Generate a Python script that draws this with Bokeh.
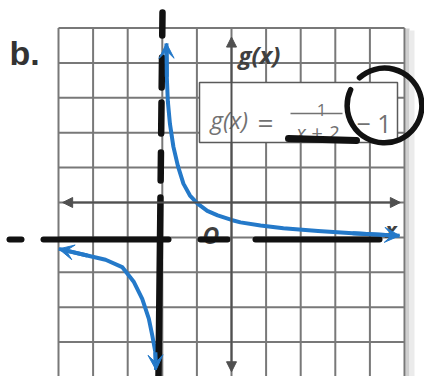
from bokeh.plotting import figure
from bokeh.models import Range1d, Arrow, VeeHead, NormalHead
from bokeh.core.properties import value
from bokeh.embed import file_html
from bokeh.resources import INLINE
import math

# ---- data ----
grid_ticks = [-5, -4, -3, -2, -1, 0, 1, 2, 3, 4, 5]

upper_x = [-1.88, -1.87, -1.84, -1.78, -1.68, -1.55, -1.39, -1.20, -0.98, -0.70,
           -0.40, 0.00, 0.26, 0.84, 1.50, 2.50, 3.50, 4.86]
upper_y = [4.56, 3.60, 2.90, 2.26, 1.60, 1.05, 0.54, 0.20, -0.03, -0.24,
           -0.37, -0.50, -0.57, -0.66, -0.74, -0.82, -0.88, -0.95]

lower_x = [-4.99, -4.17, -3.64, -3.16, -2.82, -2.58, -2.39, -2.29, -2.20, -2.18]
lower_y = [-1.33, -1.52, -1.64, -1.85, -2.28, -2.76, -3.33, -3.81, -4.29, -4.80]

axis_x_ends = [-4.88, 4.88]
axis_y_ends = [-4.85, 4.74]

# ---- pixel -> data helpers for labels / hand annotations ----
X0, Y0, SX, SY = 231.0, 202.0, 34.6, 34.9
def X(px):
    return (px - X0) / SX
def Y(py):
    return (Y0 - py) / SY

W, H = 424, 376
p = figure(width=W, height=H,
           x_range=Range1d(X(0), X(W)), y_range=Range1d(Y(H), Y(0)),
           output_backend="svg", toolbar_location=None, min_border=0,
           x_axis_type=None, y_axis_type=None, outline_line_color=None,
           background_fill_color="white", border_fill_color="white")

GRID = "#787878"
AXIS = "#505050"
BLUE = "#2479c9"
INK = "#111111"
TXT = "#727272"

# shadow to the right of the grid
p.quad(left=X(405), right=X(409), bottom=Y(H), top=Y(28), fill_color="#cfcfcf", line_color=None)
p.quad(left=X(409), right=X(414), bottom=Y(H), top=Y(30), fill_color="#ebebeb", line_color=None)

# grid
lo, hi = grid_ticks[0], grid_ticks[-1]
p.segment(x0=grid_ticks, y0=[lo] * len(grid_ticks), x1=grid_ticks, y1=[hi] * len(grid_ticks),
          line_color=GRID, line_width=2)
p.segment(x0=[lo] * len(grid_ticks), y0=grid_ticks, x1=[hi] * len(grid_ticks), y1=grid_ticks,
          line_color=GRID, line_width=2)

# axes with arrowheads
for xe in axis_x_ends:
    p.add_layout(Arrow(x_start=0, y_start=0, x_end=xe, y_end=0, line_color=AXIS, line_width=2,
                       end=NormalHead(size=10, fill_color=AXIS, line_color=AXIS)))
for ye in axis_y_ends:
    p.add_layout(Arrow(x_start=0, y_start=0, x_end=0, y_end=ye, line_color=AXIS, line_width=2,
                       end=NormalHead(size=10, fill_color=AXIS, line_color=AXIS)))

# equation box
p.quad(left=X(199), right=X(397), bottom=Y(142), top=Y(82), fill_color="white",
       line_color="#5a5a5a", line_width=1.5)

font = value("Open Sans")
p.text(x=[X(210)], y=[Y(119)], text=["g(x)"], text_font=font, text_font_style="italic",
       text_font_size="24px", text_color=TXT, text_baseline="alphabetic")
p.text(x=[X(257)], y=[Y(121)], text=["="], text_font=font, text_font_size="28px",
       text_color=TXT, text_baseline="alphabetic")
p.text(x=[X(321)], y=[Y(109)], text=["1"], text_font=font, text_font_size="17px",
       text_color=TXT, text_baseline="alphabetic", text_align="center")
p.segment(x0=[X(290)], y0=[Y(113)], x1=[X(342)], y1=[Y(113)], line_color=TXT, line_width=1.5)
p.text(x=[X(317)], y=[Y(132)], text=["x + 2"], text_font=font, text_font_style="italic",
       text_font_size="20px", text_color=TXT, text_baseline="alphabetic", text_align="center")
p.text(x=[X(356)], y=[Y(122)], text=["\u2212 1"], text_font=font, text_font_size="25px",
       text_color=TXT, text_baseline="alphabetic")

# axis labels
p.text(x=[X(238)], y=[Y(54)], text=["g(x)"], text_font=font, text_font_style="bold italic",
       text_font_size="24px", text_color="#404040", text_baseline="alphabetic")
p.text(x=[X(202)], y=[Y(234)], text=["O"], text_font=font, text_font_style="bold italic",
       text_font_size="23px", text_color="#404040", text_baseline="alphabetic")
p.text(x=[X(385)], y=[Y(229)], text=["x"], text_font=font, text_font_style="bold italic",
       text_font_size="21px", text_color="#404040", text_baseline="alphabetic")
p.text(x=[X(9)], y=[Y(52)], text=["b."], text_font=value("Liberation Sans"),
       text_font_style="bold", text_font_size="34px", text_color="#333333",
       text_baseline="alphabetic")

# the graph of g
p.line(upper_x, upper_y, line_color=BLUE, line_width=4, line_join="round")
p.line(lower_x, lower_y, line_color=BLUE, line_width=4, line_join="round")
for xs, ys in ((upper_x, upper_y), (lower_x, lower_y)):
    p.add_layout(Arrow(x_start=xs[1], y_start=ys[1], x_end=xs[0], y_end=ys[0],
                       line_color=BLUE, line_width=4,
                       end=VeeHead(size=15, fill_color=BLUE, line_color=BLUE)))
    p.add_layout(Arrow(x_start=xs[-2], y_start=ys[-2], x_end=xs[-1], y_end=ys[-1],
                       line_color=BLUE, line_width=4,
                       end=VeeHead(size=15, fill_color=BLUE, line_color=BLUE)))

# hand-drawn annotations
v_dashes = [(12, 35), (57, 87), (102, 133), (152, 180), (197, 378)]
def vx(py):
    return 162 - 4 * (py - 12) / 364
p.multi_line(xs=[[X(vx(a)), X(vx(b))] for a, b in v_dashes],
             ys=[[Y(a), Y(b)] for a, b in v_dashes],
             line_color=INK, line_width=6.5, line_cap="round")
h_dashes = [(9, 21), (43, 168), (200, 227), (255, 379)]
p.multi_line(xs=[[X(a), X(b)] for a, b in h_dashes],
             ys=[[Y(239), Y(239)] for a, b in h_dashes],
             line_color=INK, line_width=6, line_cap="round")
p.segment(x0=[X(288)], y0=[Y(138)], x1=[X(356)], y1=[Y(140)], line_color=INK,
          line_width=7, line_cap="round")
p.arc(x=[X(384)], y=[Y(105)], radius=1.08, start_angle=math.radians(155),
      end_angle=math.radians(132), line_color=INK, line_width=5.5, line_cap="round")

open("out.html", "w").write(file_html(p, INLINE))
